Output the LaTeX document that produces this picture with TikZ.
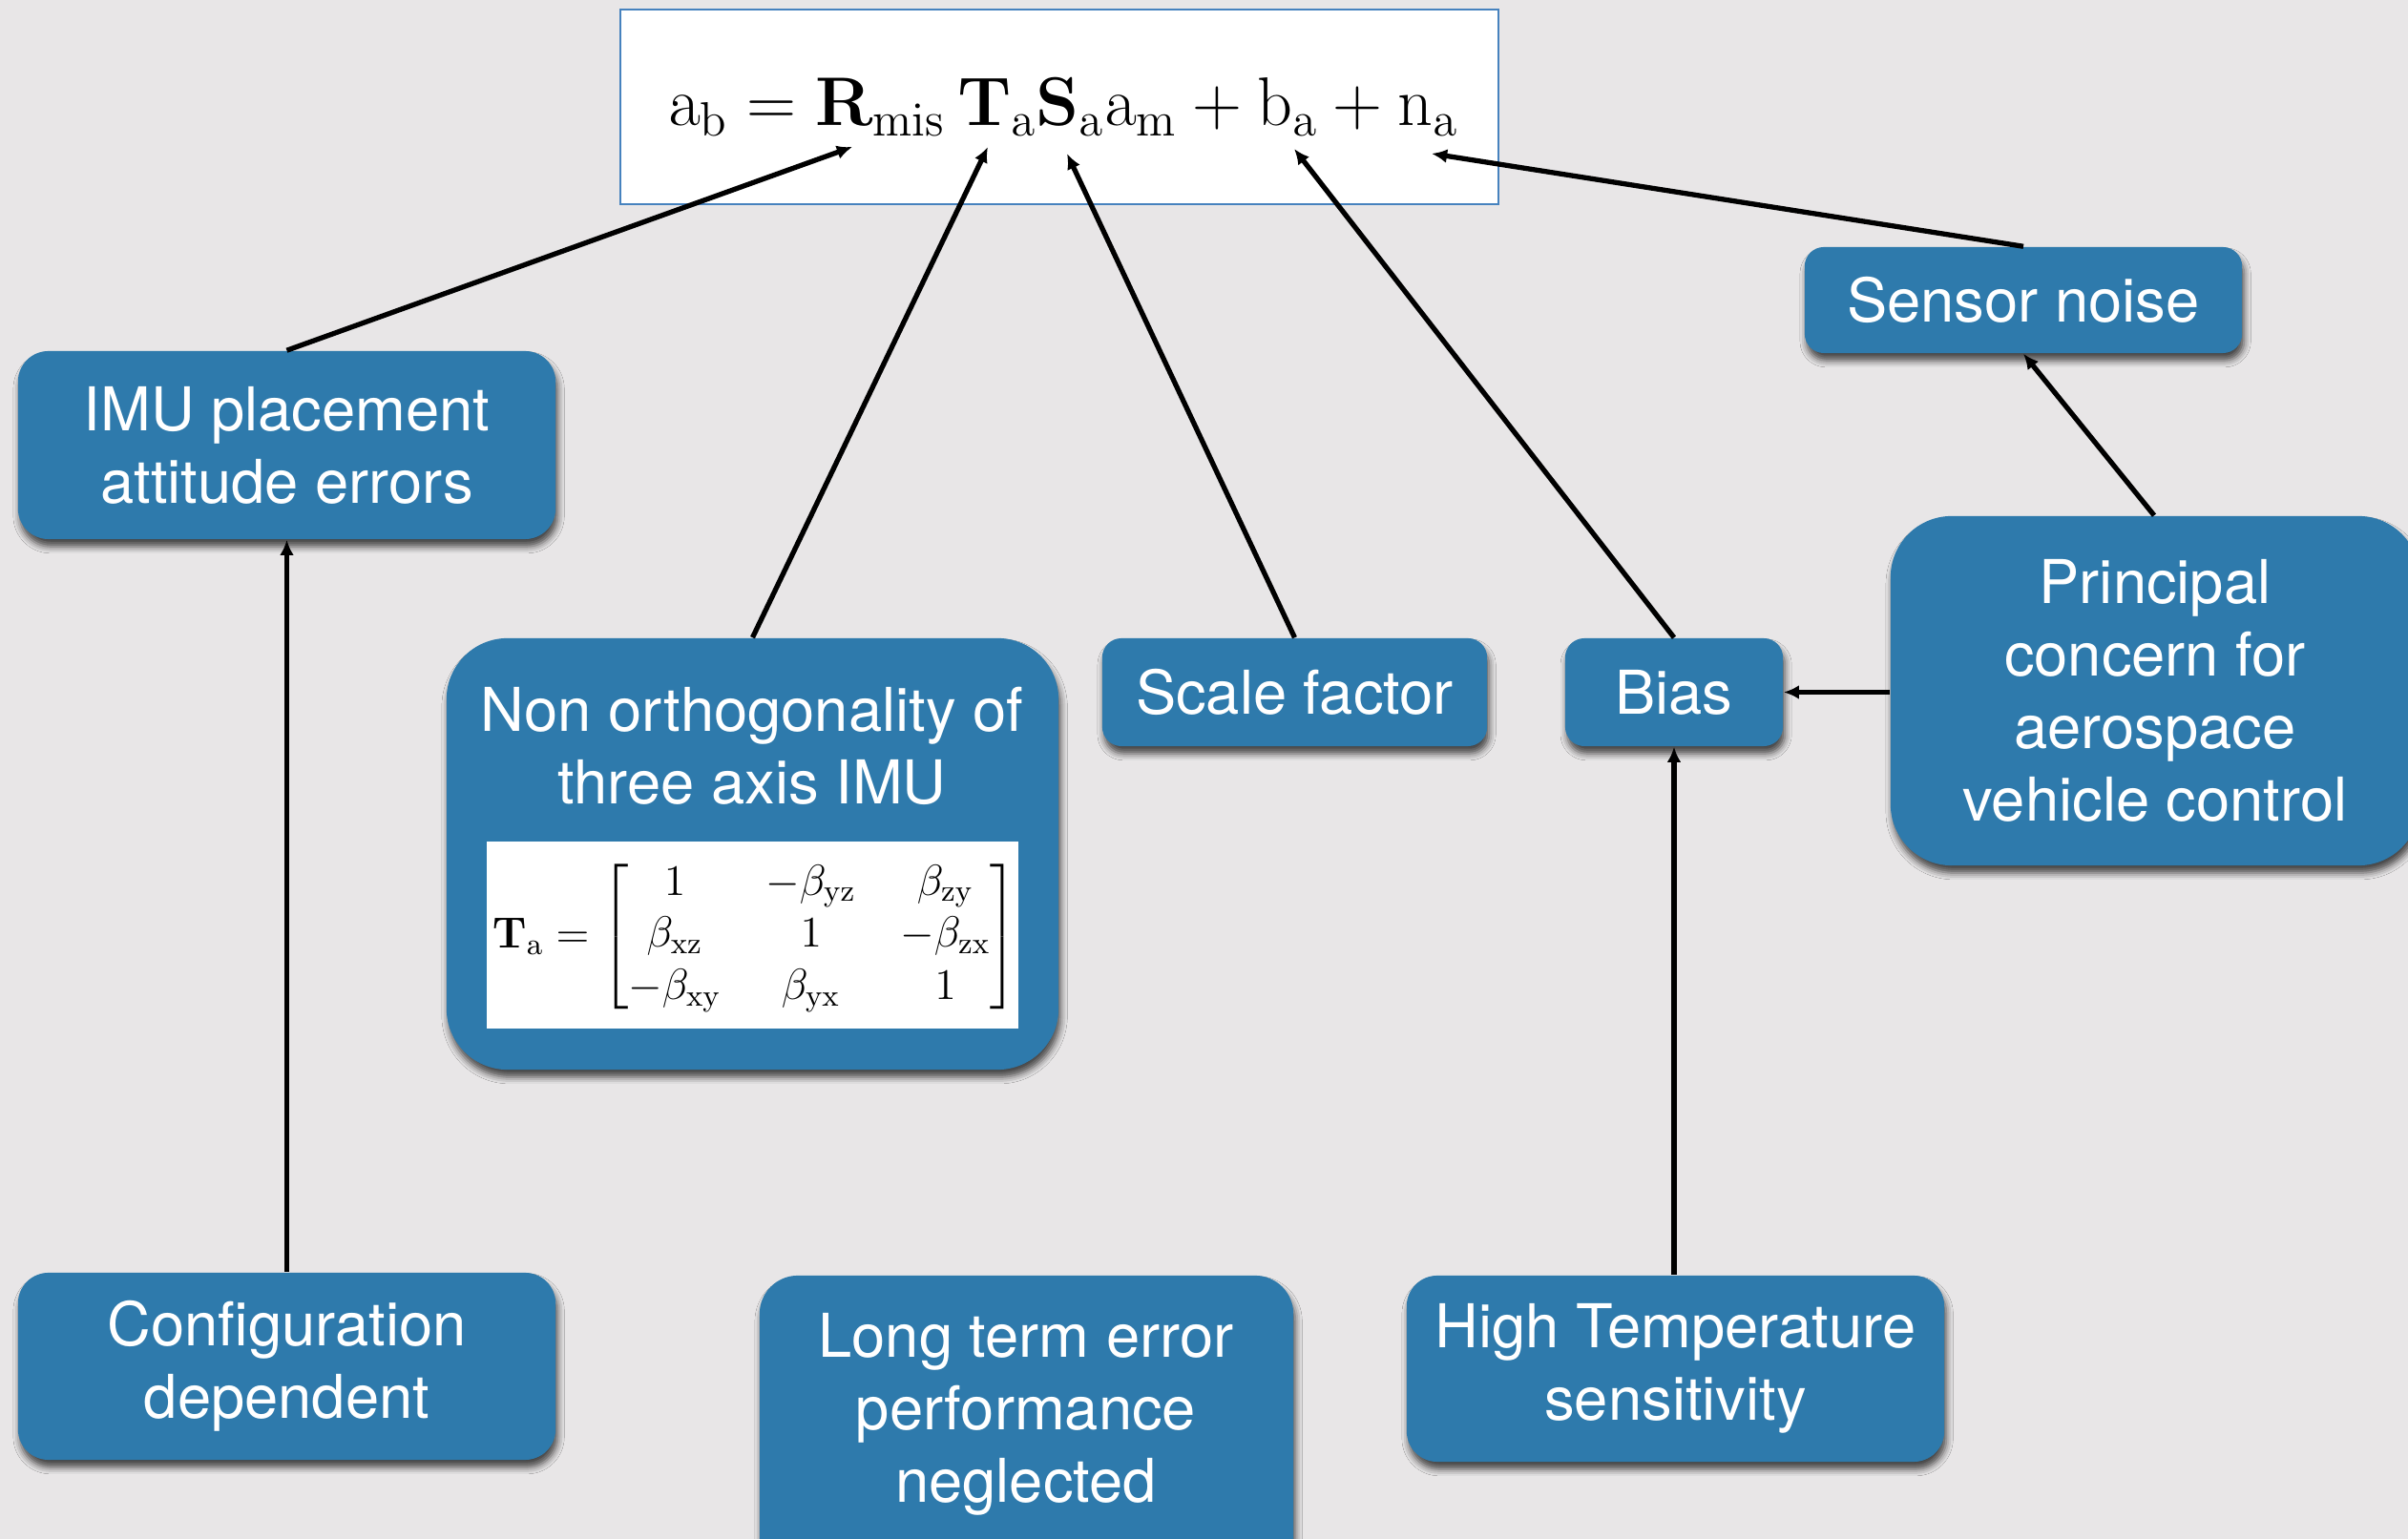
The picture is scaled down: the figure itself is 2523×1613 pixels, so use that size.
\RequirePackage{fix-cm}
\documentclass[tikz,border=0pt]{standalone}
\usepackage{amsmath}
\usepackage[no-math]{fontspec}
\setmainfont{TeX Gyre Heros}
\usetikzlibrary{arrows.meta,shadows.blur}
\definecolor{bg}{RGB}{232,230,231}
\definecolor{boxblue}{RGB}{46,122,172}
\definecolor{frameblue}{RGB}{70,130,190}

\begin{document}
\begin{tikzpicture}[x=0.01cm,y=-0.01cm,
  card/.style={fill=boxblue, draw=none, text=white, align=center,
    font=\fontsize{18}{21.6}\selectfont, inner sep=0pt,
    blur shadow={shadow xshift=0.6pt, shadow yshift=-2.2pt,
      shadow blur radius=2pt, shadow opacity=70}},
  cardtext/.style={text=white, align=center, font=\fontsize{18}{21.6}\selectfont, inner sep=0pt},
  arr/.style={-{Latex[length=4.6pt,width=4.2pt]}, line width=1.5pt, black}]

% canvas
\useasboundingbox[fill=bg] (0,0) rectangle (2523,1613);

% equation box
\node[draw=frameblue, line width=0.6pt, fill=white, minimum width=9.2cm,
      minimum height=2.04cm, inner sep=0pt] (form) at (1110,112) {};
\node[anchor=base, inner sep=0pt] (eq) at (1114,132)
  {\fontsize{20.5}{24}\selectfont
   $\mathrm{a}_{\mathrm{b}} = \mathbf{R}_{\mathrm{mis}}\,\mathbf{T}_{\mathrm{a}}\mathbf{S}_{\mathrm{a}}\mathrm{a}_{\mathrm{m}} + \mathrm{b}_{\mathrm{a}} + \mathrm{n}_{\mathrm{a}}$};
\coordinate (tR) at (893,154);
\coordinate (tT) at (1035,154);
\coordinate (tS) at (1118,161);
\coordinate (tb) at (1356,156);
\coordinate (tn) at (1500,161);

% cards
\node[card, minimum width=5.63cm, minimum height=1.97cm, rounded corners=0.32cm]
  (imu) at (300.5,466.5) {IMU placement\\attitude errors};
\node[card, minimum width=6.41cm, minimum height=4.52cm, rounded corners=0.64cm]
  (nonorth) at (788.5,895) {};
\node[cardtext] (ntext) at (788,782) {Non orthogonality of\\three axis IMU};
\node[fill=white, minimum width=5.57cm, minimum height=1.96cm, inner sep=0pt]
  (matbox) at (788.5,980) {};
\node[inner sep=0pt] (mat) at (791,982) {\fontsize{13}{15.6}\selectfont
  \setlength{\arraycolsep}{6.6pt}%
  $\mathbf{T}_{\mathrm{a}} = \begin{bmatrix}
    1 & -\beta_{\mathrm{yz}} & \beta_{\mathrm{zy}} \\
    \beta_{\mathrm{xz}} & 1 & -\beta_{\mathrm{zx}} \\
    -\beta_{\mathrm{xy}} & \beta_{\mathrm{yx}} & 1
  \end{bmatrix}$};
\node[card, minimum width=4.03cm, minimum height=1.13cm, rounded corners=0.2cm]
  (scale) at (1356.5,725.5) {Scale factor};
\node[card, minimum width=2.28cm, minimum height=1.13cm, rounded corners=0.2cm]
  (bias) at (1754,725.5) {Bias};
\node[card, minimum width=4.58cm, minimum height=1.11cm, rounded corners=0.2cm]
  (noise) at (2120,314.5) {Sensor noise};
\node[card, minimum width=5.54cm, minimum height=3.66cm, rounded corners=0.64cm]
  (princ) at (2258,724) {Principal\\concern for\\aerospace\\vehicle control};
\node[card, minimum width=5.63cm, minimum height=1.96cm, rounded corners=0.32cm]
  (config) at (300.5,1432) {Configuration\\dependent};
\node[card, minimum width=5.59cm, minimum height=3.13cm, rounded corners=0.4cm]
  (longterm) at (1075.5,1493.5) {};
\node[cardtext] (ltext) at (1075,1482) {Long term error\\performance\\neglected};
\node[card, minimum width=5.63cm, minimum height=1.95cm, rounded corners=0.32cm]
  (hightemp) at (1755.5,1434.5) {High Temperature\\sensitivity};

% connectors
\draw[arr] (imu.north) -- (tR);
\draw[arr] (nonorth.north) -- (tT);
\draw[arr] (scale.north) -- (tS);
\draw[arr] (bias.north) -- (tb);
\draw[arr] (noise.north) -- (tn);
\draw[arr] (princ.north -| 2257,0) -- (noise.south);
\draw[arr] (princ.west |- bias.east) -- (bias.east);
\draw[arr] (config.north) -- (imu.south);
\draw[arr] (hightemp.north -| bias.south) -- (bias.south);
\end{tikzpicture}
\end{document}
